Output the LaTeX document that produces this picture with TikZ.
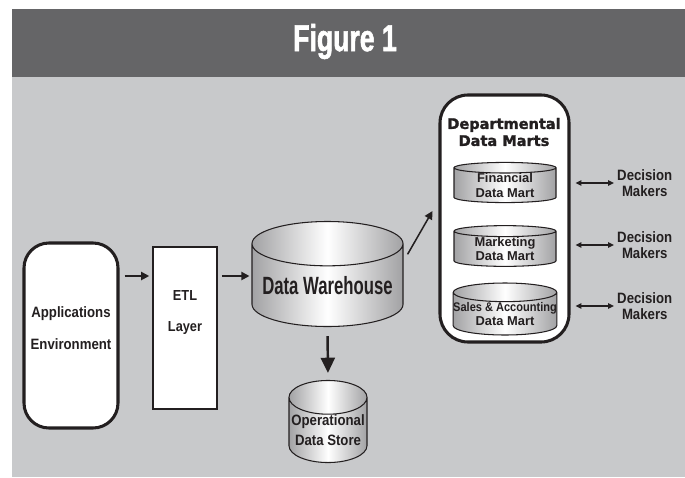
\documentclass[tikz,border=0pt]{standalone}
\usepackage{fontspec}
\setmainfont{Liberation Sans}
\newfontfamily\narrowfont[FakeStretch=0.88]{Liberation Sans}
\newfontfamily\dwfont[FakeStretch=0.67]{Liberation Sans}
\newfontfamily\titlefont[FakeStretch=0.71,BoldFeatures={FakeBold=1.5}]{Liberation Sans}
\newfontfamily\headfont[BoldFeatures={FakeBold=1.5}]{DejaVu Sans}
\definecolor{figdark}{HTML}{656567}
\definecolor{figlight}{HTML}{C8C9CB}
\definecolor{figink}{HTML}{231F20}
\definecolor{cylside}{HTML}{A2A2A4}
\usetikzlibrary{shapes.geometric,arrows.meta,positioning}

\begin{document}
\begin{tikzpicture}[
  x=0.03cm, y=-0.03cm,
  box/.style={draw=figink, fill=white, inner sep=0pt},
  db/.style={cylinder, shape border rotate=90, draw=figink, line width=0.9pt,
    left color=cylside, right color=cylside, middle color=white,
    inner sep=0pt, align=center, text=figink, anchor=shape center},
  txt/.style={text=figink, align=center, inner sep=0pt},
  flow/.style={-{Triangle[length=7pt,width=7pt]}, line width=1.6pt, figink},
  twoway/.style={{Triangle[length=5pt,width=4.5pt]}-{Triangle[length=5pt,width=4.5pt]},
    line width=1.1pt, figink},
  martfont/.style={font=\bfseries\fontsize{11}{12.2}\selectfont},
  dmfont/.style={font=\narrowfont\bfseries\fontsize{12.8}{13.7}\selectfont}
]
  % Background and banner
  \useasboundingbox (0,0) rectangle (685,477);
  \fill[figdark] (12,9) rectangle (685,77);
  \fill[figlight] (12,77) rectangle (685,477);
  \node[text=white, inner sep=0pt, font=\titlefont\bfseries\fontsize{32}{32}\selectfont]
    (title) at (345,41.5) {Figure 1};

  % Sources
  \node[box, line width=2.6pt, rounded corners=0.75cm, minimum width=2.82cm,
    minimum height=5.55cm] (apps) at (71,335.5) {};
  \node[txt, font=\narrowfont\bfseries\fontsize{12.8}{27.3}\selectfont]
    (appstext) at (71,328) {Applications\\Environment};
  \node[box, line width=1.3pt, minimum width=1.92cm, minimum height=4.86cm]
    (etl) at (185,328) {};
  \node[txt, font=\narrowfont\bfseries\fontsize{12.4}{26.5}\selectfont]
    (etltext) at (185,312.5) {ETL\\Layer};

  % Warehouse and store
  \node[db, minimum width=4.53cm, minimum height=3.15cm, aspect=0.34,
    font=\dwfont\bfseries\fontsize{21.3}{24}\selectfont] (dw) at (327.5,274) {Data Warehouse};
  \node[db, minimum width=2.34cm, minimum height=2.37cm, aspect=0.46,
    font=\narrowfont\bfseries\fontsize{12.8}{17}\selectfont] (ods) at (328,421.5) {Operational\\Data Store};

  % Data marts
  \node[box, line width=2.6pt, rounded corners=0.84cm, minimum width=3.87cm,
    minimum height=7.41cm] (dmbox) at (504.5,218.5) {};
  \node[txt, font=\headfont\bfseries\fontsize{12.4}{14.5}\selectfont]
    (dmtitle) at (504,132) {Departmental\\Data Marts};
  \node[db, martfont, minimum width=3.06cm, minimum height=1.11cm, aspect=0.18]
    (fin) at (505,182.5) {Financial\\Data Mart};
  \node[db, martfont, minimum width=3.06cm, minimum height=1.11cm, aspect=0.18]
    (mkt) at (505,246) {Marketing\\Data Mart};
  \node[db, martfont, minimum width=3.06cm, minimum height=1.11cm, aspect=0.18]
    (sales) at (505,309) {{\fontsize{10.7}{12.2}\narrowfont Sales \& Accounting}\\Data Mart};

  % Users
  \node[txt, dmfont, anchor=west] (dm1) at (617,183) {Decision\\Makers};
  \node[txt, dmfont, anchor=west] (dm2) at (617,245) {Decision\\Makers};
  \node[txt, dmfont, anchor=west] (dm3) at (617,306) {Decision\\Makers};

  % Flows
  \coordinate (flowy) at (0,276);
  \draw[flow, shorten <=0.15cm, shorten >=0.09cm] (apps.east |- flowy) -- (etl.west |- flowy);
  \draw[flow, shorten <=0.12cm, shorten >=0.06cm] (etl.east |- flowy) -- (dw.west |- flowy);
  \draw[-{Triangle[length=13pt,width=12pt]}, line width=2.1pt, figink,
    shorten <=0.27cm, shorten >=0.21cm] (dw.south) -- (ods.north);
  \draw[flow, line width=1.3pt] ([shift={(4,-31)}]dw.east) -- ([shift={(-6,-7.5)}]dmbox.west);
  \foreach \k in {dm1,dm2,dm3}
    \draw[twoway, shorten <=0.15cm, shorten >=0.09cm] (dmbox.east |- \k) -- (\k.west);
\end{tikzpicture}
\end{document}
